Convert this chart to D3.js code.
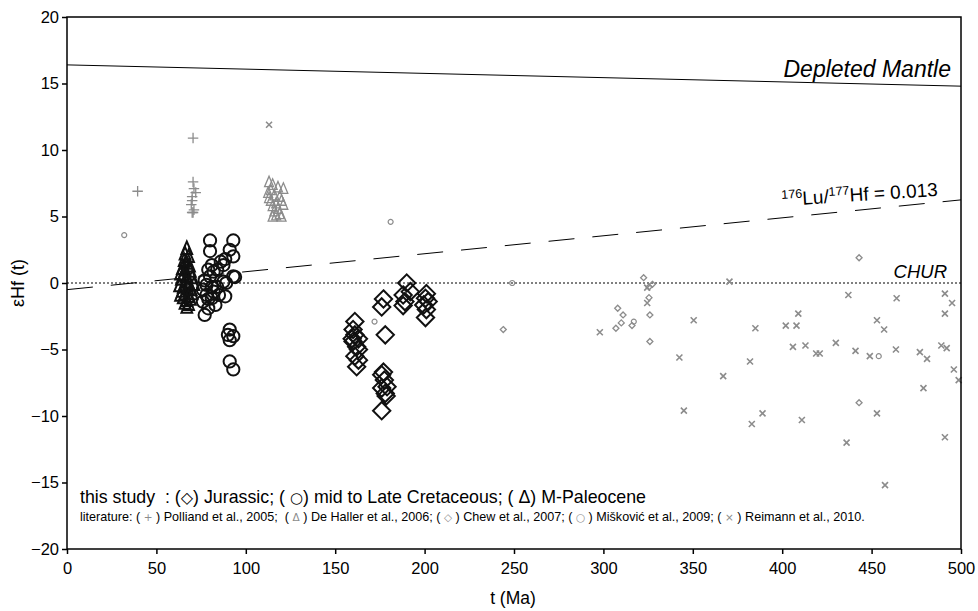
<!DOCTYPE html>
<html><head><meta charset="utf-8">
<script src="https://cdn.jsdelivr.net/npm/d3@7"></script>
<style>body{margin:0;background:#fff}svg{display:block;font-family:"Liberation Sans",Arial,sans-serif}text{white-space:pre}</style>
</head><body><svg id="c" width="978" height="611"></svg>
<script>
// ---- data ----
const xTicks = [0,50,100,150,200,250,300,350,400,450,500];
const yTicks = [-20,-15,-10,-5,0,5,10,15,20];
const depletedMantle = [[0,16.4],[500,14.8]];
const luHfLine = [[0,-0.5],[500,6.25]];
const jurassic = [[161,-2.9],[160,-3.5],[159.5,-4.2],[163,-4.2],[161,-3.9],[160,-4.4],[162,-4.8],[163,-5.0],[161,-5.5],[163,-5.8],[162,-6.3],
 [177,-1.2],[176,-1.8],[178,-3.9],[177,-6.7],[176,-6.9],[177.5,-7.3],[176,-7.9],[179,-7.8],[178,-8.3],[178.5,-8.5],[176,-9.6],
 [190,0.0],[192,-0.65],[188,-0.9],[189,-1.4],[188,-1.7],[201,-0.8],[200.5,-1.15],[202,-1.4],[199.5,-1.65],[201,-2.0],[200.5,-2.6]];
const cretaceous = [[80,3.2],[80,2.4],[93,3.2],[91,2.5],[93,2.0],[88.5,1.8],[87.5,1.35],[81,1.35],[79,1.0],[82,0.85],[93,0.5],[94,0.45],
 [87.5,0.1],[89,0.0],[77,0.2],[78,-0.15],[81,-0.3],[76,-0.5],[82,-0.65],[78,-0.9],[81,-1.15],[76,-1.4],[83,-1.65],[79,-1.9],[77,-2.4],
 [88.5,-1.0],[91,-3.5],[90,-3.9],[93,-4.0],[91,-4.3],[91,-5.9],[93,-6.5],[86,1.6],[84,1.0],[80,0.5],[84,-0.3],[79,-1.2],[85,-0.9]];
const paleocene = [[67,2.6],[66,2.2],[68,2.0],[65.5,1.7],[67,1.5],[68.5,1.3],[64.5,1.1],[66,1.0],[69,0.9],[63.5,0.7],[65,0.6],[67,0.5],
 [70,0.4],[64,0.3],[66.5,0.1],[68,0.0],[71,-0.1],[63,-0.2],[65,-0.3],[67.5,-0.4],[69.5,-0.5],[64.5,-0.6],[66,-0.8],[70,-0.8],
 [63.5,-0.9],[68,-1.0],[65,-1.1],[67,-1.3],[69,-1.2],[66,-1.5],[68,-1.6],[67,-1.8]];
const polliand = [[39.5,6.9],[70.5,10.9],[70.5,7.6],[71,7.1],[72,6.8],[70,6.2],[69.5,5.9],[70,5.3],[71,5.5],[70.5,5.3],[70,6.5]];
const deHaller = [[113,7.6],[115,7.4],[118,7.2],[114,7.0],[121,7.1],[112.5,6.8],[116,6.6],[119,6.5],[114,6.2],[117,6.0],
 [120,6.2],[115,5.8],[118,5.6],[121,5.9],[116,5.4],[119,5.2],[117,5.1],[115,5.0],[120,5.0],[113,6.4]];
const chew = [[244,-3.5],[308,-1.9],[311,-2.4],[307,-3.4],[310,-3.0],[316,-3.2],[322.5,0.4],[325.5,-0.3],[327.4,-0.1],
 [325.5,-1.1],[326,-2.4],[326,-4.4],[443,1.9],[443,-9.0]];
const miskovic = [[32,3.6],[181,4.6],[172,-2.9],[249,0.0],[317,-2.9],[454,-5.5]];
const reimann = [[113,11.9],[298,-3.7],[324.5,-0.35],[324.5,-1.5],[350.5,-2.8],[342.5,-5.6],[345,-9.6],[370.5,0.1],[367,-7.0],
 [385,-3.4],[382,-5.9],[389,-9.8],[383,-10.6],[402,-3.2],[408,-3.2],[409,-2.3],[406,-4.8],[413,-4.7],[419,-5.3],[421,-5.3],
 [430,-4.5],[411,-10.3],[437,-0.9],[441,-5.1],[436,-12.0],[449,-5.5],[453,-2.8],[457,-3.5],[453,-9.8],[457.5,-15.2],
 [464,-1.15],[463.6,-5.0],[477,-5.2],[481,-5.7],[479,-7.9],[489,-4.7],[492,-4.9],[491,-0.8],[495,-1.5],[491,-2.3],
 [496,-6.5],[498.7,-7.3],[491,-11.6]];

// ---- layout ----
const W=978,H=611,m={l:67,t:17,r:17,b:62};
const svg=d3.select('#c');
const x=d3.scaleLinear().domain([0,500]).range([m.l,W-m.r]);
const y=d3.scaleLinear().domain([-20,20]).range([H-m.b,m.t]);
const grey='#8c8c8c';

// reference lines
const line=d3.line().x(d=>x(d[0])).y(d=>y(d[1]));
svg.append('path').attr('d',line(depletedMantle)).attr('fill','none').attr('stroke','#000').attr('stroke-width',1);
svg.append('path').attr('d',line(luHfLine)).attr('fill','none').attr('stroke','#000').attr('stroke-width',1).attr('stroke-dasharray','26,18');
svg.append('line').attr('x1',x(0)).attr('x2',x(500)).attr('y1',y(0)).attr('y2',y(0)).attr('stroke','#000').attr('stroke-width',1).attr('stroke-dasharray','2,2');

// symbols
const g=svg.append('g');
function plot(data,type,size,color,sw){
  const sym=d3.symbol().type(type).size(size);
  g.append('g').selectAll('path').data(data).join('path')
   .attr('transform',d=>`translate(${x(d[0])},${y(d[1])})`)
   .attr('d',sym).attr('fill','none').attr('stroke',color).attr('stroke-width',sw);
}
const diamondSq={draw(ctx,s){const r=Math.sqrt(s)/2;ctx.moveTo(0,-r);ctx.lineTo(r,0);ctx.lineTo(0,r);ctx.lineTo(-r,0);ctx.closePath();}};
const triUp={draw(ctx,s){const r=Math.sqrt(s)/2;ctx.moveTo(0,-r*1.1);ctx.lineTo(r*0.85,r*0.9);ctx.lineTo(-r*0.85,r*0.9);ctx.closePath();}};
const plus={draw(ctx,s){const r=Math.sqrt(s)/2;ctx.moveTo(-r,0);ctx.lineTo(r,0);ctx.moveTo(0,-r);ctx.lineTo(0,r);}};
const cross={draw(ctx,s){const r=Math.sqrt(s)/2;ctx.moveTo(-r,-r);ctx.lineTo(r,r);ctx.moveTo(r,-r);ctx.lineTo(-r,r);}};
const circ={draw(ctx,s){const r=Math.sqrt(s)/2;ctx.moveTo(r,0);ctx.arc(0,0,r,0,2*Math.PI);}};

plot(reimann,cross,36,grey,1.6);
plot(chew,diamondSq,36,grey,1.3);
plot(miskovic,circ,25,grey,1.2);
plot(polliand,plus,110,grey,1.3);
plot(deHaller,triUp,110,grey,1.3);
plot(jurassic,diamondSq,300,'#111',2);
plot(cretaceous,circ,150,'#111',2);
plot(paleocene,triUp,160,'#111',2);

// axes
const ax=svg.append('g').attr('transform',`translate(0,${H-m.b})`).call(d3.axisBottom(x).tickValues(xTicks).tickSize(5).tickSizeOuter(0));
const ay=svg.append('g').attr('transform',`translate(${m.l},0)`).call(d3.axisLeft(y).tickValues(yTicks).tickSize(5).tickSizeOuter(0));
[ax,ay].forEach(a=>{a.select('.domain').remove();a.selectAll('text').attr('font-size',16.5).attr('fill','#000').attr('font-family','"Liberation Sans",Arial,sans-serif');a.selectAll('line').attr('stroke','#000').attr('stroke-width',1.5);});
ax.selectAll('text').attr('dy','1.05em');
svg.append('rect').attr('x',m.l).attr('y',m.t).attr('width',W-m.l-m.r).attr('height',H-m.t-m.b).attr('fill','none').attr('stroke','#000').attr('stroke-width',1.5);

// axis titles
svg.append('text').attr('x',513).attr('y',604).attr('text-anchor','middle').attr('font-size',17.5).text('t (Ma)');
svg.append('text').attr('transform','translate(24,283) rotate(-90)').attr('text-anchor','middle').attr('font-size',18).text('εHf (t)');

// annotations
svg.append('text').attr('x',951).attr('y',77).attr('text-anchor','end').attr('font-size',23).attr('font-style','italic').text('Depleted Mantle');
svg.append('text').attr('x',947).attr('y',278).attr('text-anchor','end').attr('font-size',18.5).attr('font-style','italic').text('CHUR');
const lt=svg.append('text').attr('transform','translate(782,206) rotate(-3.7)').attr('font-size',19);
lt.append('tspan').attr('font-size',12.5).attr('dy',-7).text('176');
lt.append('tspan').attr('dy',7).text('Lu/');
lt.append('tspan').attr('font-size',12.5).attr('dy',-7).text('177');
lt.append('tspan').attr('dy',7).text('Hf = 0.013');

// legend text
const l1=svg.append('text').attr('x',80).attr('y',503).attr('font-size',17.8);
l1.append('tspan').text('this study  : (');
l1.append('tspan').attr('font-family','DejaVu Sans').attr('font-size',16).text('◇');
l1.append('tspan').text(') Jurassic; ( ');
l1.append('tspan').attr('font-family','DejaVu Sans').attr('font-size',15).text('○');
l1.append('tspan').text(') mid to Late Cretaceous; ( Δ) M-Paleocene');

const l2=svg.append('text').attr('x',80).attr('y',521).attr('font-size',12.6);
const parts=[['literature: ( ',null],['+',1],[' ) Polliand et al., 2005;  ( ',null],['Δ',1],[' ) De Haller et al., 2006; ( ',null],['◇',1],[' ) Chew et al., 2007; ( ',null],['○',1],[' ) Mišković et al., 2009; ( ',null],['×',1],[' ) Reimann et al., 2010.',null]];
parts.forEach(p=>{const t=l2.append('tspan').text(p[0]); if(p[1]) t.attr('fill',grey).attr('font-family','DejaVu Sans').attr('font-size',10.5);});
</script></body></html>
